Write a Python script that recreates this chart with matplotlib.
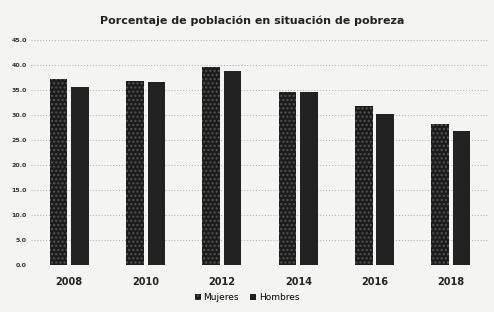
import matplotlib.pyplot as plt
import numpy as np

years = ["2008", "2010", "2012", "2014", "2016", "2018"]
mujeres = [37.2, 36.8, 39.6, 34.6, 31.8, 28.2]
hombres = [35.6, 36.6, 38.8, 34.6, 30.2, 26.8]
yticks = [0, 5, 10, 15, 20, 25, 30, 35, 40, 45]

fig = plt.figure(figsize=(4.94, 3.12), dpi=100, facecolor="#f4f4f2")
ax = fig.add_axes([0.063, 0.151, 0.927, 0.72], facecolor="#f4f4f2")

x = np.arange(len(years))
w = 0.23
ax.bar(x - w / 2 - 0.025, mujeres, w, color="#1c1c1c", hatch="....",
       edgecolor="#555555", linewidth=0, label="Mujeres", zorder=3)
ax.bar(x + w / 2 + 0.025, hombres, w, color="#222222", linewidth=0,
       label="Hombres", zorder=3)

ax.set_ylim(0, 45)
ax.set_yticks(yticks)
ax.set_yticklabels([f"{v:.1f}" for v in yticks], fontsize=4.5, fontweight="bold", color="#333333")
ax.set_xticks(x)
ax.set_xticklabels(years, fontsize=7, fontweight="bold", color="#222222")
ax.set_xlim(-0.5, len(years) - 0.5)
ax.tick_params(axis="y", length=0, pad=3)
ax.tick_params(axis="x", length=0, pad=9)
ax.yaxis.grid(True, color="#aaaaaa", linestyle=(0, (1, 2)), linewidth=0.7, zorder=0)
for s in ax.spines.values():
    s.set_visible(False)

fig.text(0.51, 0.935, "Porcentaje de población en situación de pobreza",
         ha="center", va="center", fontsize=8, fontweight="bold", color="#222222")

fig.legend(loc="center", bbox_to_anchor=(0.5, 0.045), ncol=2, frameon=False,
           fontsize=6.5, handlelength=0.7, handleheight=0.7, columnspacing=1.2,
           handletextpad=0.3)

fig.savefig("out.png", dpi=100, facecolor=fig.get_facecolor())
